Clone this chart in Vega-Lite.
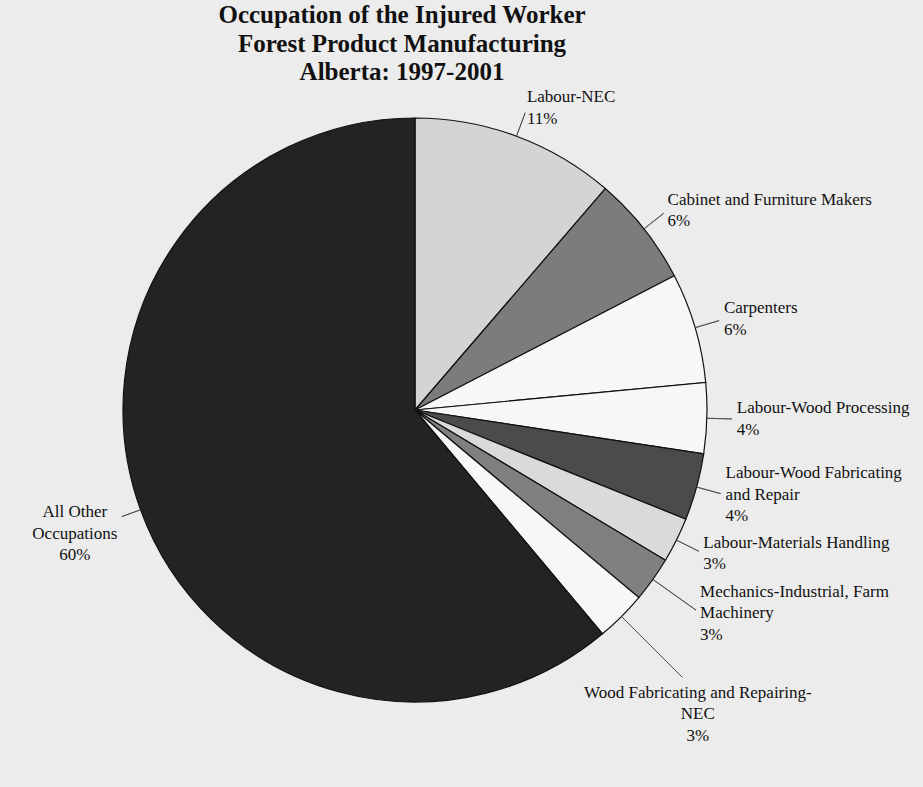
{
  "$schema": "https://vega.github.io/schema/vega-lite/v6.json",
  "width": 830,
  "height": 640,
  "autosize": {"type": "none"},
  "padding": {"left": 0, "top": 90, "right": 93, "bottom": 57},
  "background": "#ececec",
  "config": {"view": {"stroke": null}},
  "title": {
    "text": ["Occupation of the Injured Worker", "Forest Product Manufacturing", "Alberta: 1997-2001"],
    "font": "Liberation Serif",
    "fontSize": 25,
    "fontWeight": "bold",
    "lineHeight": 28.5,
    "color": "#111111",
    "anchor": "middle",
    "dx": -13,
    "offset": 3
  },
  "data": {
    "values": [
      {"cat": "Labour-NEC", "value": 11.3, "ord": 1, "label": ["Labour-NEC", "11%"]},
      {"cat": "Cabinet and Furniture Makers", "value": 6.1, "ord": 2, "label": ["Cabinet and Furniture Makers", "6%"]},
      {"cat": "Carpenters", "value": 6.1, "ord": 3, "label": ["Carpenters", "6%"]},
      {"cat": "Labour-Wood Processing", "value": 3.9, "ord": 4, "label": ["Labour-Wood Processing", "4%"]},
      {"cat": "Labour-Wood Fabricating and Repair", "value": 3.7, "ord": 5, "label": ["Labour-Wood Fabricating", "and Repair", "4%"]},
      {"cat": "Labour-Materials Handling", "value": 2.5, "ord": 6, "label": ["Labour-Materials Handling", "3%"]},
      {"cat": "Mechanics-Industrial, Farm Machinery", "value": 2.5, "ord": 7, "label": ["Mechanics-Industrial, Farm", "Machinery", "3%"]},
      {"cat": "Wood Fabricating and Repairing-NEC", "value": 2.8, "ord": 8, "label": ["Wood Fabricating and Repairing-", "NEC", "3%"]},
      {"cat": "All Other Occupations", "value": 61.1, "ord": 9, "label": ["All Other", "Occupations", "60%"]}
    ]
  },
  "transform": [
    {"window": [{"op": "sum", "field": "value", "as": "cum"}], "sort": [{"field": "ord"}], "frame": [null, 0]},
    {"calculate": "datum.cum - datum.value / 2", "as": "mid"}
  ],
  "layer": [
    {
      "mark": {"type": "arc", "outerRadius": 292, "stroke": "#111111", "strokeWidth": 1.2},
      "encoding": {
        "theta": {"field": "value", "type": "quantitative", "stack": true, "scale": {"domain": [0, 100]}},
        "order": {"field": "ord", "type": "quantitative"},
        "color": {
          "field": "cat",
          "type": "nominal",
          "legend": null,
          "scale": {
            "domain": ["Labour-NEC", "Cabinet and Furniture Makers", "Carpenters", "Labour-Wood Processing", "Labour-Wood Fabricating and Repair", "Labour-Materials Handling", "Mechanics-Industrial, Farm Machinery", "Wood Fabricating and Repairing-NEC", "All Other Occupations"],
            "range": ["#d4d4d4", "#7c7c7c", "#f7f7f7", "#f7f7f7", "#4b4b4b", "#dadada", "#808080", "#f7f7f7", "#232323"]
          }
        }
      }
    },
    {
      "transform": [{"filter": "datum.ord <= 6"}],
      "mark": {"type": "arc", "radius": 317, "radius2": 292, "filled": false, "stroke": "#444444", "strokeWidth": 0.8},
      "encoding": {
        "theta": {"field": "mid", "type": "quantitative", "stack": null, "scale": {"domain": [0, 100]}},
        "theta2": {"field": "mid"}
      }
    },
    {
      "transform": [{"filter": "datum.ord == 7"}],
      "mark": {"type": "arc", "radius": 345, "radius2": 292, "filled": false, "stroke": "#444444", "strokeWidth": 0.8},
      "encoding": {
        "theta": {"field": "mid", "type": "quantitative", "stack": null, "scale": {"domain": [0, 100]}},
        "theta2": {"field": "mid"}
      }
    },
    {
      "transform": [{"filter": "datum.ord == 8"}],
      "mark": {"type": "arc", "radius": 378, "radius2": 292, "filled": false, "stroke": "#444444", "strokeWidth": 0.8},
      "encoding": {
        "theta": {"field": "mid", "type": "quantitative", "stack": null, "scale": {"domain": [0, 100]}},
        "theta2": {"field": "mid"}
      }
    },
    {
      "transform": [{"filter": "datum.ord == 9"}],
      "mark": {"type": "arc", "radius": 312, "radius2": 292, "filled": false, "stroke": "#444444", "strokeWidth": 0.8},
      "encoding": {
        "theta": {"field": "mid", "type": "quantitative", "stack": null, "scale": {"domain": [0, 100]}},
        "theta2": {"field": "mid"}
      }
    },
    {
      "transform": [{"filter": "datum.ord <= 6 && datum.ord != 5"}],
      "mark": {"type": "text", "radius": 322, "align": "left", "baseline": "middle", "dy": -10.75, "font": "Liberation Serif", "fontSize": 17, "lineHeight": 21.5, "color": "#111111"},
      "encoding": {
        "theta": {"field": "mid", "type": "quantitative", "stack": null, "scale": {"domain": [0, 100]}},
        "text": {"field": "label", "type": "nominal"}
      }
    },
    {
      "transform": [{"filter": "datum.ord == 5"}],
      "mark": {"type": "text", "radius": 322, "align": "left", "baseline": "middle", "dy": -21.5, "font": "Liberation Serif", "fontSize": 17, "lineHeight": 21.5, "color": "#111111"},
      "encoding": {
        "theta": {"field": "mid", "type": "quantitative", "stack": null, "scale": {"domain": [0, 100]}},
        "text": {"field": "label", "type": "nominal"}
      }
    },
    {
      "transform": [{"filter": "datum.ord == 7"}],
      "mark": {"type": "text", "radius": 350, "align": "left", "baseline": "middle", "dy": -21.5, "font": "Liberation Serif", "fontSize": 17, "lineHeight": 21.5, "color": "#111111"},
      "encoding": {
        "theta": {"field": "mid", "type": "quantitative", "stack": null, "scale": {"domain": [0, 100]}},
        "text": {"field": "label", "type": "nominal"}
      }
    },
    {
      "transform": [{"filter": "datum.ord == 8"}],
      "mark": {"type": "text", "radius": 400, "align": "center", "baseline": "middle", "font": "Liberation Serif", "fontSize": 17, "lineHeight": 21.5, "color": "#111111"},
      "encoding": {
        "theta": {"field": "mid", "type": "quantitative", "stack": null, "scale": {"domain": [0, 100]}},
        "text": {"field": "label", "type": "nominal"}
      }
    },
    {
      "transform": [{"filter": "datum.ord == 9"}],
      "mark": {"type": "text", "radius": 362, "align": "center", "baseline": "middle", "dy": -21.5, "font": "Liberation Serif", "fontSize": 17, "lineHeight": 21.5, "color": "#111111"},
      "encoding": {
        "theta": {"field": "mid", "type": "quantitative", "stack": null, "scale": {"domain": [0, 100]}},
        "text": {"field": "label", "type": "nominal"}
      }
    }
  ]
}
